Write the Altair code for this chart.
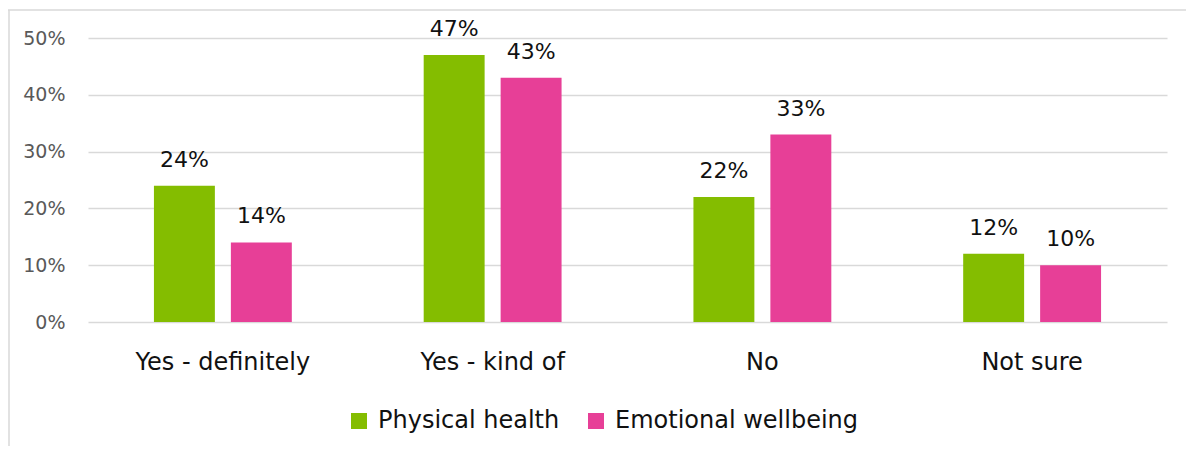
import altair as alt
import pandas as pd

categories = ["Yes - definitely", "Yes - kind of", "No", "Not sure"]
series = ["Physical health", "Emotional wellbeing"]
physical = [24, 47, 22, 12]
emotional = [14, 43, 33, 10]
colors = ["#84BD00", "#E73F97"]
y_ticks = [0, 10, 20, 30, 40, 50]

rows = []
for c, p, e in zip(categories, physical, emotional):
    rows.append({"category": c, "series": series[0], "value": p})
    rows.append({"category": c, "series": series[1], "value": e})
df = pd.DataFrame(rows)

W, H = 1079, 284

base = alt.Chart(df).encode(
    x=alt.X("category:N", sort=categories, title=None,
            scale=alt.Scale(paddingInner=0, paddingOuter=0),
            axis=alt.Axis(labelAngle=0, ticks=False, domain=False, grid=False,
                          labelFont="DejaVu Sans", labelFontSize=24,
                          labelColor="#111111", labelPadding=28, labelLimit=400)),
    xOffset=alt.XOffset("series:N", sort=series,
                        scale=alt.Scale(paddingInner=0.208, paddingOuter=0.857)),
    y=alt.Y("value:Q", title=None,
            scale=alt.Scale(domain=[0, 50], nice=False),
            axis=alt.Axis(values=y_ticks, labelExpr="datum.value + '%'",
                          ticks=False, domain=False, grid=True,
                          gridColor="#d9d9d9", gridWidth=1.5,
                          labelFont="DejaVu Sans", labelFontSize=19,
                          labelColor="#595959", labelPadding=23)),
)

bars = base.mark_bar().encode(
    color=alt.Color("series:N", sort=series,
                    scale=alt.Scale(domain=series, range=colors),
                    legend=alt.Legend(title=None, orient="none", direction="horizontal",
                                      legendX=259, legendY=371,
                                      symbolType="square", symbolSize=256,
                                      symbolStrokeWidth=0, symbolOpacity=1,
                                      labelFont="DejaVu Sans", labelFontSize=24,
                                      labelColor="#111111", labelOffset=7,
                                      labelLimit=500, columnPadding=24))
)

labels = base.mark_text(baseline="alphabetic", dy=-19, font="DejaVu Sans",
                        fontSize=22, color="#111111").encode(
    text=alt.Text("label:N")
).transform_calculate(label="datum.value + '%'")

frame_df = pd.DataFrame({"k": [0]})
left_line = alt.Chart(frame_df).mark_rule(color="#d9d9d9", strokeWidth=1.5).encode(
    x=alt.value(-79), y=alt.value(-28), y2=alt.value(460))
top_line = alt.Chart(frame_df).mark_rule(color="#d9d9d9", strokeWidth=1.5).encode(
    y=alt.value(-28), x=alt.value(-80), x2=alt.value(1120))

chart = alt.layer(bars, labels, left_line, top_line).properties(
    width=W, height=H,
    autosize=alt.AutoSizeParams(type="none"),
    padding={"left": 80, "top": 30, "right": 19, "bottom": 124},
).configure_view(stroke=None)

chart.save("out.html", embed_options={"renderer": "svg", "actions": False})
